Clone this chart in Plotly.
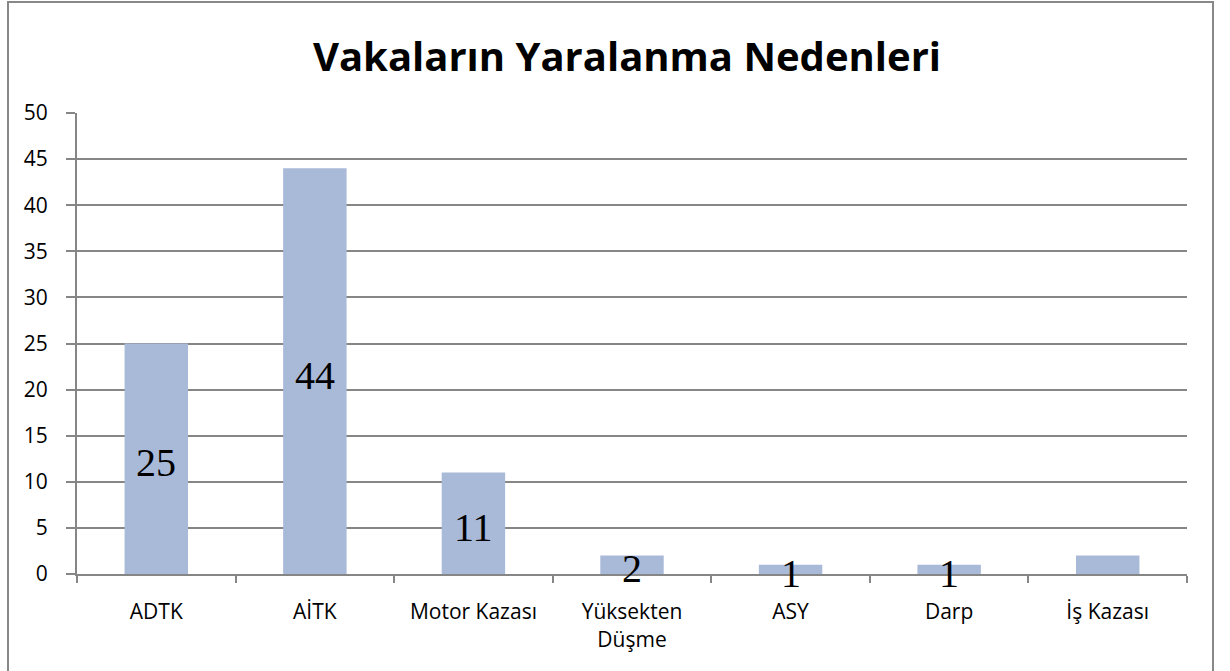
import plotly.graph_objects as go

categories = ["ADTK", "AİTK", "Motor Kazası", "Yüksekten<br>Düşme", "ASY", "Darp", "İş Kazası"]
values = [25, 44, 11, 2, 1, 1, 2]
labels = ["25", "44", "11", "2", "1", "1", ""]
y_ticks = [0, 5, 10, 15, 20, 25, 30, 35, 40, 45, 50]

W, H = 1230, 671
ML, MR, MT, MB = 77, 43, 113, 97
PW, PH = W - ML - MR, H - MT - MB
GRID = "#868686"

fig = go.Figure()
fig.add_trace(go.Bar(x=categories, y=values, marker=dict(color="#A9B9D8", line=dict(width=0)),
                     hoverinfo="x+y"))

for c, v, t in zip(categories, values, labels):
    if t:
        fig.add_annotation(x=c, y=v / 2, text=t, showarrow=False, xref="x", yref="y",
                           font=dict(family="Liberation Serif", size=40, color="black"),
                           yshift=-4)

def px2paper_x(px):
    return (px - ML) / PW

def px2paper_y(py):
    return (H - MB - py) / PH

fig.add_shape(type="rect", xref="paper", yref="paper",
              x0=px2paper_x(8), x1=px2paper_x(1213), y0=px2paper_y(675), y1=px2paper_y(2),
              line=dict(color="#888888", width=2), fillcolor="rgba(0,0,0,0)", layer="below")

fig.update_layout(
    width=W, height=H,
    margin=dict(l=ML, r=MR, t=MT, b=MB),
    paper_bgcolor="white", plot_bgcolor="white",
    bargap=0.6,
    showlegend=False,
    title=dict(text="<b>Vakaların Yaralanma Nedenleri</b>", x=627 / W, xanchor="center",
               y=1 - 57 / H, yanchor="middle",
               font=dict(family="Open Sans", size=40, color="black")),
    font=dict(family="Open Sans", size=21, color="black"),
    xaxis=dict(showline=True, linecolor=GRID, linewidth=2, ticks="outside", tickson="boundaries",
               ticklen=7, tickcolor=GRID, tickwidth=2, showgrid=False, ticklabelstandoff=18,
               tickfont=dict(family="Open Sans", size=21)),
    yaxis=dict(range=[0, 50], tickvals=y_ticks, showline=True, linecolor=GRID, linewidth=2,
               ticks="outside", ticklen=9, tickcolor=GRID, tickwidth=2,
               showgrid=True, gridcolor=GRID, gridwidth=2, zeroline=False,
               ticklabelstandoff=14, tickfont=dict(family="Open Sans", size=21)),
)

fig.write_html("out.html", config={"displayModeBar": False},
               post_script="document.body.style.margin='0';document.body.style.overflow='hidden';")
